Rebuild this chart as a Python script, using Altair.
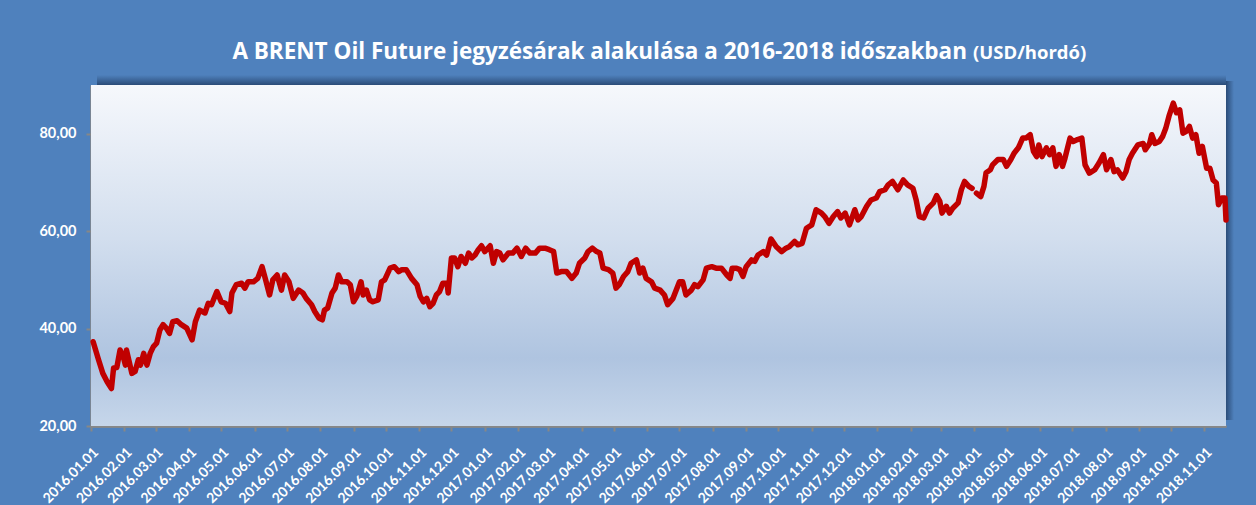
import altair as alt
import pandas as pd

TITLE_MAIN = "A BRENT Oil Future jegyzésárak alakulása a 2016-2018 időszakban"
TITLE_UNIT = "(USD/hordó)"
START = "2016-01-01"
END = "2018-11-21"
GAP_AFTER_DAY = 820

# day offset from 2016-01-01, Brent price (USD/barrel)
days = [2, 7, 11, 15, 19, 21, 24, 27, 30, 32, 33, 38, 41, 44, 46, 49, 52, 55, 58, 61,
        64, 67, 70, 73, 76, 80, 84, 89, 94, 97, 101, 106, 109, 112, 117, 121, 125, 129, 131, 135,
        140, 143, 146, 151, 155, 159, 162, 166, 169, 173, 177, 180, 184, 188, 193, 197, 200, 205, 208, 212,
        215, 217, 220, 224, 227, 230, 233, 238, 241, 244, 247, 251, 253, 256, 259, 262, 267, 270, 273, 278,
        282, 286, 289, 293, 298, 303, 306, 309, 312, 315, 318, 321, 324, 327, 331, 332, 335, 338, 341, 344,
        348, 351, 354, 357, 360, 363, 366, 371, 374, 377, 380, 383, 388, 392, 396, 400, 404, 408, 413, 417,
        422, 426, 430, 433, 437, 442, 447, 451, 454, 459, 462, 466, 470, 473, 476, 481, 485, 488, 491, 495,
        499, 502, 507, 510, 513, 516, 521, 524, 529, 533, 536, 541, 544, 547, 550, 553, 558, 561, 564, 569,
        572, 577, 581, 586, 591, 594, 596, 600, 603, 606, 609, 614, 617, 620, 625, 628, 632, 637, 642, 646,
        649, 654, 657, 661, 665, 670, 674, 679, 682, 686, 690, 694, 697, 701, 705, 710, 713, 716, 721, 725,
        730, 733, 738, 741, 745, 750, 755, 759, 764, 767, 770, 774, 778, 783, 786, 789, 791, 795, 798, 801,
        806, 809, 812, 816, 819, 823, 827, 830, 832, 836, 838, 843, 848, 851, 855, 858, 862, 866, 869, 873,
        876, 879, 881, 884, 888, 891, 894, 897, 900, 903, 905, 910, 913, 917, 921, 924, 928, 933, 937, 941,
        944, 948, 951, 954, 959, 962, 965, 968, 973, 978, 980, 984, 986, 989, 993, 996, 999, 1002, 1006, 1009,
        1012, 1015, 1018, 1021, 1024, 1027, 1030, 1033, 1037, 1040, 1043, 1046, 1048, 1051, 1054, 1055]

prices = [37.3, 33.6, 30.8, 29.1, 27.7, 31.9, 32.0, 35.6, 34.2, 32.5, 35.6, 30.8, 31.2, 33.6, 32.5, 34.9, 32.5, 34.9, 36.3, 37.0,
          39.7, 40.8, 40.1, 39.0, 41.4, 41.6, 40.8, 40.1, 37.7, 41.4, 43.8, 43.2, 45.2, 44.9, 47.6, 45.5, 45.2, 43.5, 47.3, 49.0,
          49.3, 48.3, 49.6, 49.6, 50.3, 52.7, 50.3, 46.9, 50.0, 51.0, 47.9, 51.0, 49.6, 46.2, 47.9, 47.3, 46.2, 44.9, 43.5, 42.1,
          41.8, 43.8, 44.2, 47.3, 48.3, 51.0, 49.6, 49.6, 49.0, 45.5, 46.6, 49.6, 46.9, 47.9, 45.9, 45.5, 45.9, 49.6, 50.0, 52.4,
          52.7, 51.7, 52.1, 52.1, 50.3, 49.0, 46.6, 45.5, 46.2, 44.5, 45.2, 46.9, 47.6, 49.3, 49.3, 47.3, 54.5, 54.5, 52.7, 54.8,
          53.4, 55.5, 54.5, 55.1, 56.2, 57.0, 55.8, 57.0, 53.4, 55.8, 55.5, 54.1, 55.5, 55.5, 56.5, 54.8, 56.5, 55.5, 55.5, 56.5,
          56.5, 56.2, 55.8, 51.4, 51.7, 51.7, 50.3, 51.4, 53.4, 54.5, 55.8, 56.5, 55.8, 55.5, 52.4, 52.1, 51.4, 48.3, 49.0, 50.7,
          51.7, 53.4, 54.1, 51.4, 52.4, 50.3, 49.6, 48.3, 47.9, 46.9, 44.9, 46.2, 47.9, 49.6, 49.6, 46.9, 47.9, 49.0, 48.6, 50.0,
          52.4, 52.7, 52.4, 52.4, 51.0, 50.3, 52.4, 52.4, 52.1, 50.7, 52.7, 54.1, 53.8, 55.1, 55.8, 55.1, 58.4, 56.8, 55.8, 56.5,
          56.8, 57.9, 57.2, 57.5, 60.6, 61.3, 64.4, 63.7, 63.0, 61.6, 63.0, 64.0, 62.7, 63.7, 61.3, 64.4, 62.3, 63.0, 65.1, 66.4,
          66.8, 68.1, 68.5, 69.5, 70.2, 68.5, 70.5, 69.5, 68.8, 66.4, 63.0, 62.7, 64.7, 65.8, 67.3, 66.1, 63.7, 65.1, 63.7, 64.7,
          65.8, 68.5, 70.2, 69.2, 68.8, 67.8, 67.1, 69.2, 72.0, 72.6, 73.6, 74.7, 74.7, 73.3, 74.7, 76.0, 77.1, 79.1, 79.1, 79.8,
          76.4, 75.3, 77.7, 75.3, 77.1, 75.7, 77.1, 73.3, 75.7, 73.3, 74.7, 79.1, 78.4, 78.8, 79.1, 73.6, 71.9, 72.6, 74.0, 75.7,
          72.6, 74.7, 72.2, 72.6, 70.9, 72.2, 74.7, 76.0, 77.7, 78.0, 76.7, 78.0, 79.8, 78.0, 78.4, 79.4, 81.1, 83.6, 86.3, 84.3,
          84.9, 80.1, 80.5, 81.5, 79.1, 79.8, 76.0, 77.4, 72.9, 72.9, 70.5, 69.9, 65.4, 66.8, 66.8, 62.3]

y_ticks = [20, 40, 60, 80]
y_domain = [20, 90]

BG = "#4F81BD"
AXIS_GREY = "#878787"
FONT = "Lato"
TITLE_FONT = "Open Sans"

dates = (pd.Timestamp(START) + pd.to_timedelta(days, unit="D")).strftime("%Y-%m-%d")
df = pd.DataFrame({
    "date": list(dates),
    "price": prices,
    "seg": [0 if d <= GAP_AFTER_DAY else 1 for d in days],
})

x_enc = alt.X(
    "date:T",
    scale=alt.Scale(type="utc", domain=[START, END], nice=False),
    axis=alt.Axis(
        title=None, format="%Y.%m.%d", tickCount={"interval": "month", "step": 1},
        labelAngle=315, labelOverlap=False, labelColor="white", labelFont=FONT,
        labelFontSize=14, labelFontWeight="bold", labelPadding=14, tickSize=5,
        grid=False,
    ),
)
y_enc = alt.Y(
    "price:Q",
    scale=alt.Scale(domain=y_domain, nice=False, zero=False),
    axis=alt.Axis(
        title=None, values=y_ticks,
        labelExpr="replace(format(datum.value, '.2f'), '.', ',')",
        labelColor="white", labelFont=FONT, labelFontSize=14.5, labelFontWeight="bold",
        labelPadding=10, tickSize=5, grid=True, gridColor="#8C8C8C", gridWidth=2,
    ),
)

one = pd.DataFrame({"k": [0]})

plot_bg = alt.Chart(one).mark_rect(
    color=alt.LinearGradient(
        gradient="linear", x1=0, x2=0, y1=0, y2=1,
        stops=[
            alt.GradientStop(offset=0, color="#F6F8FC"),
            alt.GradientStop(offset=0.45, color="#D2DEEE"),
            alt.GradientStop(offset=0.8, color="#AFC4E0"),
            alt.GradientStop(offset=1, color="#C6D6EA"),
        ],
    )
).encode(x=alt.value(0), x2=alt.value("width"), y=alt.value(0), y2=alt.value("height"))

shadow_top = alt.Chart(one).mark_rect(
    color=alt.LinearGradient(
        gradient="linear", x1=0, x2=0, y1=0, y2=1,
        stops=[
            alt.GradientStop(offset=0, color=BG),
            alt.GradientStop(offset=1, color="#2B4C78"),
        ],
    )
).encode(x=alt.value(6), x2=alt.value("width"), y=alt.value(-10), y2=alt.value(0))

shadow_right = alt.Chart(one).mark_rect(
    color=alt.LinearGradient(
        gradient="linear", x1=0, x2=1, y1=0, y2=0,
        stops=[
            alt.GradientStop(offset=0, color="#2B4C78"),
            alt.GradientStop(offset=1, color=BG),
        ],
    )
).encode(x=alt.value(1135), x2=alt.value(1143), y=alt.value(-4), y2=alt.value(335))

line = alt.Chart(df).mark_line(
    color="#C00000", strokeWidth=5.5, strokeJoin="round", strokeCap="round"
).encode(x=x_enc, y=y_enc, detail="seg:N")

title_main = alt.Chart(pd.DataFrame({"t": [TITLE_MAIN]})).mark_text(
    align="right", baseline="alphabetic", font=TITLE_FONT, fontSize=22.5, fontWeight="bold", color="white"
).encode(x=alt.value(876), y=alt.value(-26), text="t:N")

title_unit = alt.Chart(pd.DataFrame({"t": [TITLE_UNIT]})).mark_text(
    align="left", baseline="alphabetic", font=TITLE_FONT, fontSize=18.5, fontWeight="bold", color="white"
).encode(x=alt.value(882), y=alt.value(-26), text="t:N")

chart = alt.layer(shadow_top, shadow_right, plot_bg, line, title_main, title_unit).properties(
    width=1135, height=341,
    padding={"left": 91, "top": 85, "right": 30, "bottom": 79},
    autosize=alt.AutoSizeParams(type="none"),
    background=BG,
).configure_view(stroke=None).configure_axis(
    domainColor=AXIS_GREY, domainWidth=2.5, tickColor=AXIS_GREY, tickWidth=2,
)

chart.save("out.html", embed_options={"renderer": "svg", "actions": False})
